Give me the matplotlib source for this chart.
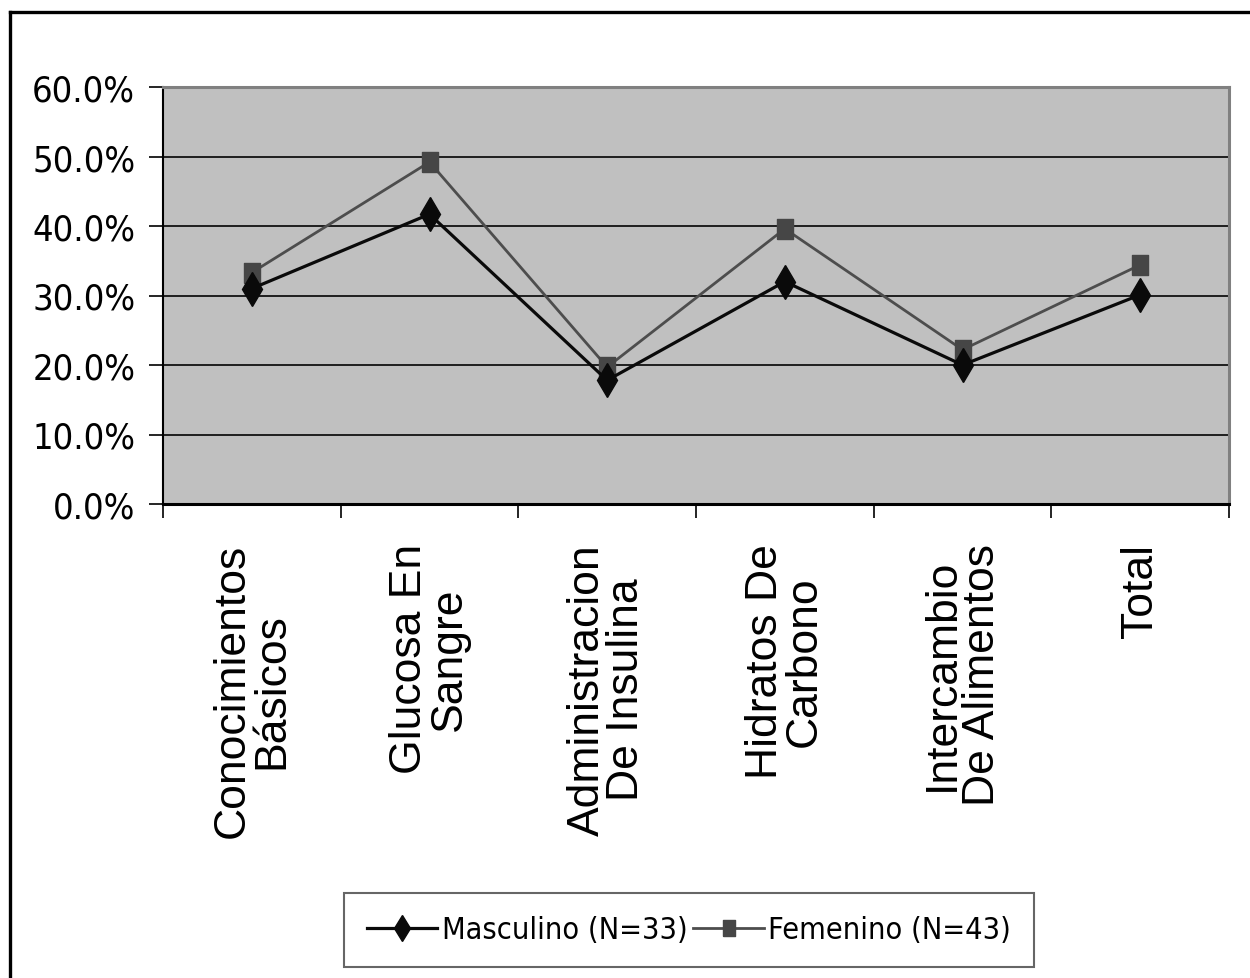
import matplotlib
matplotlib.use("Agg")
import matplotlib.pyplot as plt
from matplotlib.lines import Line2D
from matplotlib.ticker import FuncFormatter

# datos del grafico (porcentajes)
categorias = ["Conocimientos\nBásicos", "Glucosa En\nSangre", "Administracion\nDe Insulina",
              "Hidratos De\nCarbono", "Intercambio\nDe Alimentos", "Total"]
masculino = [31.0, 41.7, 17.8, 32.0, 20.0, 30.1]
femenino = [33.3, 49.2, 19.7, 39.6, 22.2, 34.4]
etiquetas_series = ["Masculino (N=33)", "Femenino (N=43)"]
y_ticks = [0, 10, 20, 30, 40, 50, 60]

normal = ["Liberation Sans", "DejaVu Sans"]

W, H = 1250, 979
fig = plt.figure(figsize=(W / 100, H / 100), dpi=100)
ax = fig.add_axes([163 / W, 1 - 505 / H, (1229 - 163) / W, (505 - 88) / H])
ax.set_facecolor("#c0c0c0")

x = list(range(len(categorias)))

# rectangulo alto para el marcador del femenino
rect = [(-0.75, -1), (0.75, -1), (0.75, 1), (-0.75, 1), (-0.75, -1)]

ax.plot(x, masculino, color="#0a0a0a", lw=2.3, marker="d", ms=17,
        mfc="#0a0a0a", mec="#0a0a0a", label=etiquetas_series[0], zorder=4)
ax.plot(x, femenino, color="#4d4d4d", lw=2.0, marker=rect, ms=15,
        mfc="#464646", mec="#464646", label=etiquetas_series[1], zorder=3)

ax.set_xlim(-0.5, len(categorias) - 0.5)
ax.set_ylim(0, 60)
ax.set_yticks(y_ticks)
ax.yaxis.set_major_formatter(FuncFormatter(lambda v, p: f"{v:.1f}%"))
ax.grid(axis="y", color="#111111", lw=1.3)
ax.set_axisbelow(True)

# ticks del eje x en los limites entre categorias
ax.set_xticks([i - 0.5 for i in range(len(categorias) + 1)])
ax.set_xticklabels([])
ax.set_xticks(x, labels=categorias, minor=True)
ax.tick_params(axis="x", which="major", direction="out", length=10, width=1.2, color="black")
ax.tick_params(axis="x", which="minor", length=0, pad=28)
ax.tick_params(axis="y", direction="out", length=10, width=1.2, color="black", pad=10)

for lab in ax.get_xticklabels(minor=True):
    lab.set_rotation(90)
    lab.set_fontsize(32)
    lab.set_family(normal)
    lab.set_multialignment("center")
    lab.set_linespacing(0.95)
    lab.set_va("top")
for lab in ax.get_yticklabels():
    lab.set_fontsize(26)
    lab.set_family("DejaVu Sans")
    lab.set_stretch("condensed")

for lado in ["top", "right"]:
    ax.spines[lado].set_color("#808080")
    ax.spines[lado].set_linewidth(2.2)
ax.spines["left"].set_color("black")
ax.spines["left"].set_linewidth(1.5)
ax.spines["bottom"].set_color("black")
ax.spines["bottom"].set_linewidth(2.2)

leg = fig.legend(loc="center", bbox_to_anchor=(689 / W, 1 - 931 / H), ncol=2,
                 prop={"family": "DejaVu Sans", "stretch": "condensed", "size": 22},
                 frameon=True, fancybox=False, markerscale=0.8,
                 edgecolor="#404040", handlelength=2.3, handletextpad=0.15,
                 columnspacing=0.2, borderpad=0.75, borderaxespad=0)
leg.get_frame().set_linewidth(1.5)

# marco exterior del grafico
fig.add_artist(Line2D([10 / W, 10 / W], [0, 1 - 13 / H], color="black", lw=2.4))
fig.add_artist(Line2D([10 / W, 1], [1 - 13 / H, 1 - 13 / H], color="black", lw=2.4))

fig.savefig("out.png", dpi=100)
